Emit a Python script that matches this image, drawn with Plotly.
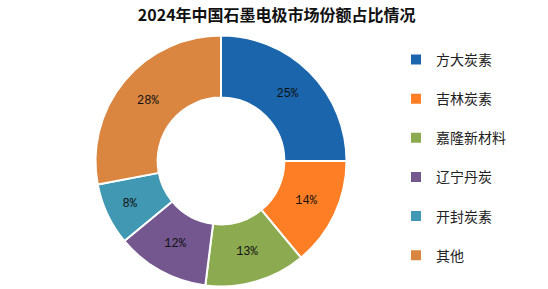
import plotly.graph_objects as go

title = "2024年中国石墨电极市场份额占比情况"
companies = ["方大炭素", "吉林炭素", "嘉隆新材料", "辽宁丹炭", "开封炭素", "其他"]
shares = [25, 14, 13, 12, 8, 28]
colors = ["#1A65AB", "#FD7E24", "#8CAA50", "#74578F", "#4198B3", "#DA8540"]

W, H = 548, 289
cx, cy, r = 221, 161, 125.5

legend_labels = [f"<span style='font-size:14px'>{c}</span><br>&nbsp;" for c in companies]

fig = go.Figure(go.Pie(
    labels=legend_labels,
    values=shares,
    sort=False,
    direction="clockwise",
    rotation=0,
    hole=0.505,
    marker=dict(colors=colors, line=dict(color="white", width=2)),
    texttemplate="%{value}%",
    textposition="inside",
    insidetextorientation="horizontal",
    textfont=dict(family="Liberation Mono, monospace", size=12, color="#111111"),
    hoverinfo="label+percent",
    domain=dict(x=[(cx - r) / W, (cx + r) / W], y=[(H - cy - r) / H, (H - cy + r) / H]),
))

fig.update_layout(
    width=W, height=H,
    margin=dict(l=0, r=0, t=0, b=0),
    paper_bgcolor="white",
    title=dict(text=f"<b>{title}</b>", x=0.505, xanchor="center", xref="paper",
               y=1 - 15 / H, yanchor="middle", yref="container",
               font=dict(family="Noto Sans CJK SC", size=16, color="#111111")),
    legend=dict(x=396 / W, xanchor="left", y=1 - 46 / H, yanchor="top",
                font=dict(family="Noto Sans CJK SC", size=13.9, color="#222222"),
                valign="top", traceorder="normal", bgcolor="rgba(0,0,0,0)"),
)

fig.write_html("out.html")
